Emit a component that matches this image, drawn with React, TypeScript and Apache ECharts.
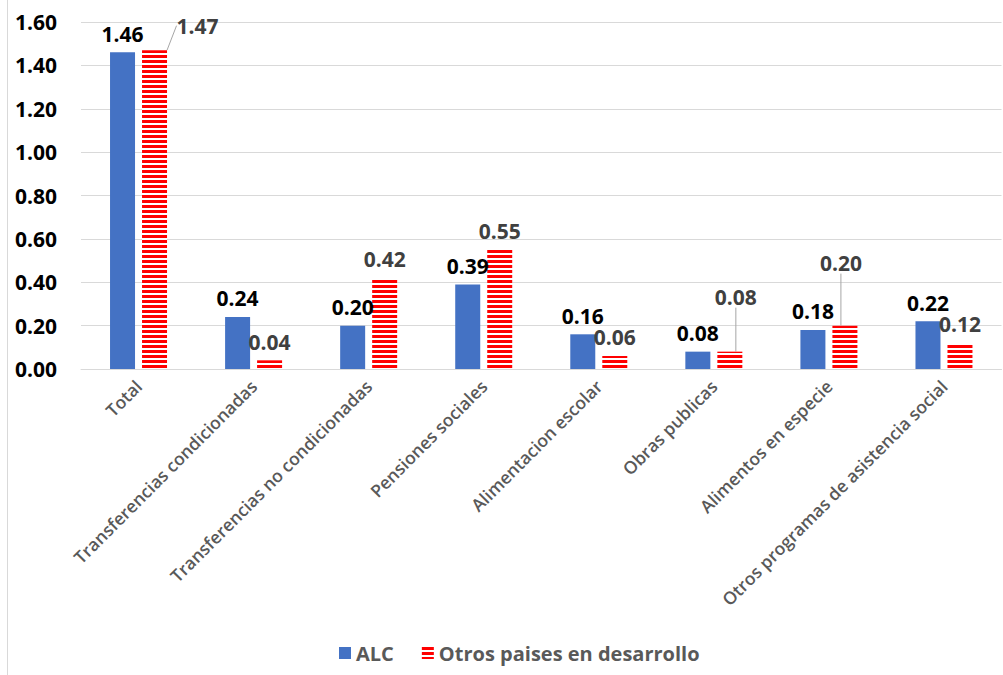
import React, { useEffect, useRef } from "react";
import * as echarts from "echarts";

const categories = [
  "Total",
  "Transferencias condicionadas",
  "Transferencias no condicionadas",
  "Pensiones sociales",
  "Alimentacion escolar",
  "Obras publicas",
  "Alimentos en especie",
  "Otros programas de asistencia social",
];
const alcValues = [1.46, 0.24, 0.2, 0.39, 0.16, 0.08, 0.18, 0.22];
const otrosValues = [1.47, 0.04, 0.42, 0.55, 0.06, 0.08, 0.2, 0.12];
const yTicks = { min: 0, max: 1.6, interval: 0.2 };
// label shifts (dx, dy) for the labels moved off their bars, with leader lines
const otrosLabelShift: [number, number][] = [
  [43, -6],
  [0, 0],
  [0, 0],
  [0, 0],
  [0, 0],
  [6, -36],
  [-4, -44],
  [0, 0],
];

const FONT = "Open Sans";

export default function App() {
  const ref = useRef<HTMLDivElement>(null);
  useEffect(() => {
    if (!ref.current) return;
    const chart = echarts.init(ref.current, undefined, { renderer: "svg" });
    const otrosData = otrosValues.map((v, i) => {
      const s = otrosLabelShift[i];
      if (s[0] !== 0 || s[1] !== 0) {
        return { value: v, labelLine: { show: true } };
      }
      return { value: v };
    });
    chart.setOption({
      animation: false,
      backgroundColor: "#ffffff",
      textStyle: { fontFamily: FONT },
      graphic: [
        {
          type: "line",
          shape: { x1: 7.5, y1: 0, x2: 7.5, y2: 675 },
          style: { stroke: "#d9d9d9", lineWidth: 1 },
          silent: true,
        },
      ],
      grid: { left: 81, right: 1.5, top: 22, bottom: 306, containLabel: false },
      legend: {
        left: 334,
        top: 638,
        itemGap: 28,
        itemWidth: 12,
        itemHeight: 12,
        textStyle: {
          color: "#595959",
          fontSize: 20,
          fontWeight: "bold",
          fontFamily: FONT,
        },
        data: [
          { name: "ALC", icon: "rect" },
          { name: "Otros paises en desarrollo", icon: "rect" },
        ],
      },
      xAxis: {
        type: "category",
        data: categories,
        axisLine: { lineStyle: { color: "#d9d9d9", width: 1 } },
        axisTick: { show: false },
        axisLabel: {
          interval: 0,
          rotate: 45,
          margin: 14,
          color: "#595959",
          fontSize: 17.5,
          fontWeight: 600,
          fontFamily: FONT,
        },
      },
      yAxis: {
        type: "value",
        min: yTicks.min,
        max: yTicks.max,
        interval: yTicks.interval,
        axisLine: { show: false },
        axisTick: { show: false },
        splitLine: { lineStyle: { color: "#d9d9d9", width: 1 } },
        axisLabel: {
          margin: 24,
          color: "#000000",
          fontSize: 21,
          fontWeight: "bold",
          fontFamily: FONT,
          formatter: (v: number) => v.toFixed(2),
        },
      },
      series: [
        {
          name: "ALC",
          type: "bar",
          data: alcValues,
          barWidth: 25,
          barGap: "28%",
          itemStyle: { color: "#4472C4" },
          label: {
            show: true,
            position: "top",
            distance: 8,
            color: "#000000",
            fontSize: 21,
            fontWeight: "bold",
            fontFamily: FONT,
            formatter: (p: any) => Number(p.value).toFixed(2),
          },
        },
        {
          name: "Otros paises en desarrollo",
          type: "bar",
          data: otrosData,
          barWidth: 25,
          barGap: "28%",
          itemStyle: {
            color: "#ffffff",
            decal: {
              symbol: "rect",
              symbolSize: 1,
              color: "#ff0000",
              backgroundColor: "#ffffff",
              dashArrayX: [1, 0],
              dashArrayY: [3, 1.6],
              rotation: 0,
            },
          },
          label: {
            show: true,
            position: "top",
            distance: 8,
            color: "#404040",
            fontSize: 21,
            fontWeight: "bold",
            fontFamily: FONT,
            formatter: (p: any) => Number(p.value).toFixed(2),
          },
          labelLine: { show: false, lineStyle: { color: "#a6a6a6", width: 1 } },
          labelLayout: (params: any) => {
            const s = otrosLabelShift[params.dataIndex] || [0, 0];
            return { dx: s[0], dy: s[1] };
          },
        },
      ],
    });
    return () => chart.dispose();
  }, []);
  return (
    <div
      ref={ref}
      style={{ position: "fixed", left: 0, top: 0, width: 1003, height: 675 }}
    />
  );
}
